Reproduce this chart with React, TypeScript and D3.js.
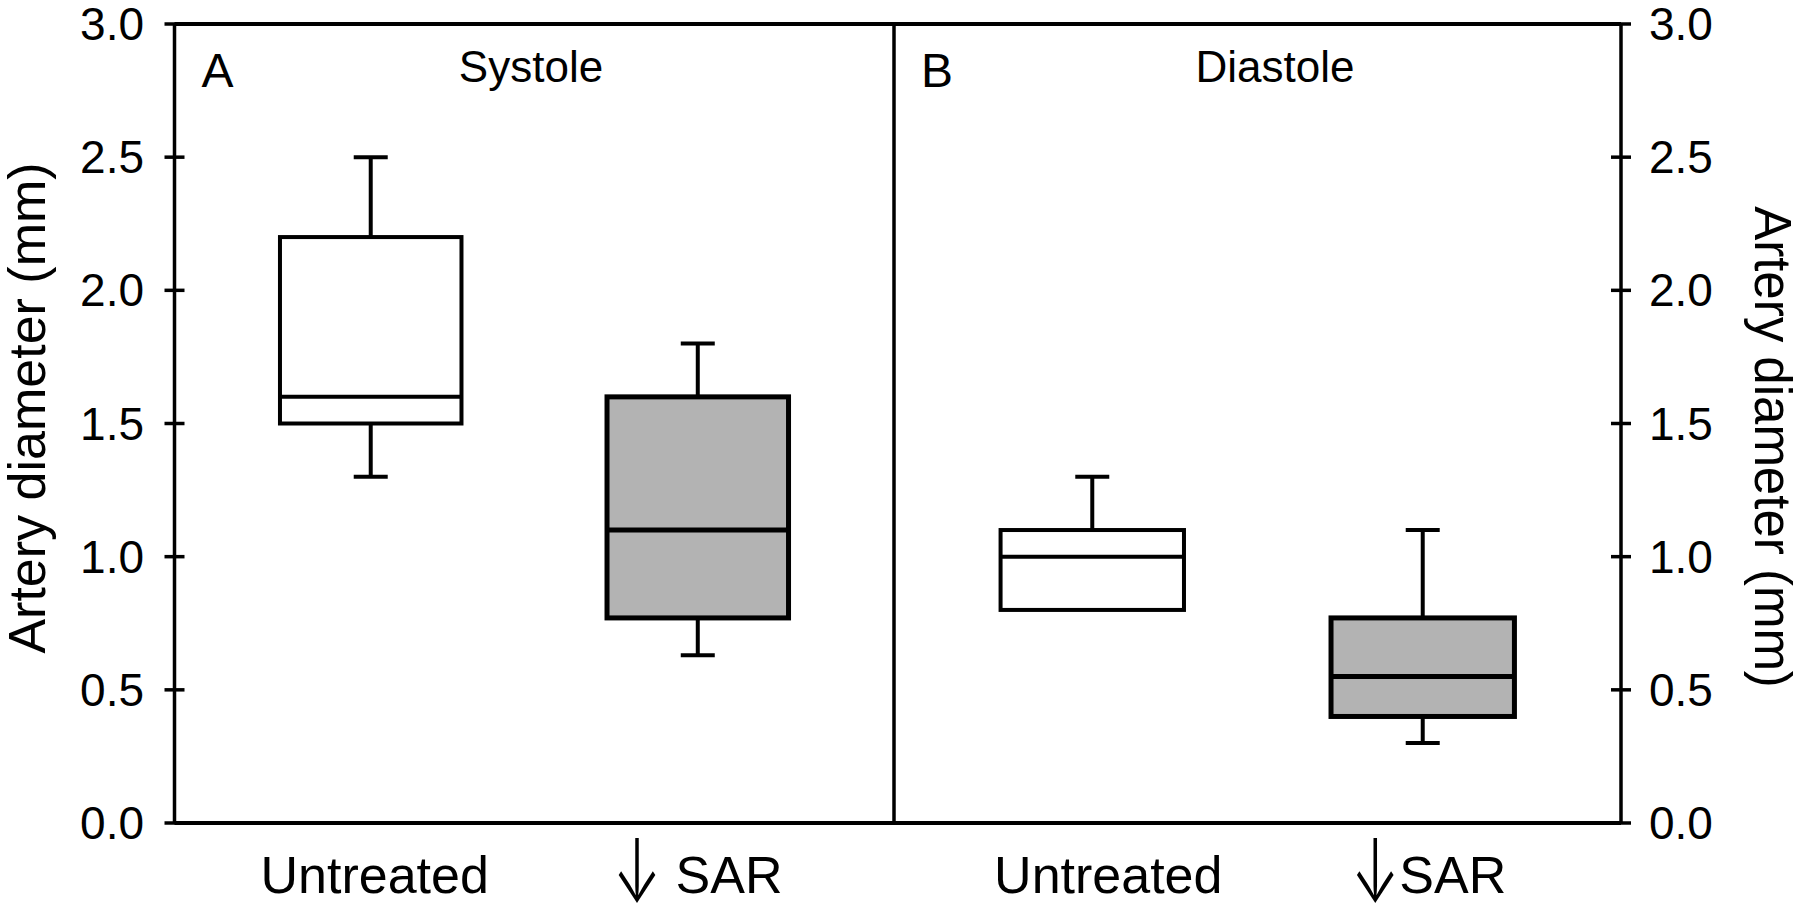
import React from "react";
import * as d3 from "d3";

// ---- data ----
const yTicks = [0, 0.5, 1.0, 1.5, 2.0, 2.5, 3.0];
const categories = ["Untreated", "SAR"];
const panelTitles = ["Systole", "Diastole"];
const panelLetters = ["A", "B"];
// [prefix arrow, text] for each category label
const labelsA = [["", "Untreated"], ["\u2193", " SAR"]];
const labelsB = [["", "Untreated"], ["\u2193", "SAR"]];

// Systole (panel A)
const systoleLow = [1.3, 0.63];
const systoleQ1 = [1.5, 0.77];
const systoleMedian = [1.6, 1.1];
const systoleQ3 = [2.2, 1.6];
const systoleHigh = [2.5, 1.8];

// Diastole (panel B)
const diastoleLow = [0.8, 0.3];
const diastoleQ1 = [0.8, 0.4];
const diastoleMedian = [1.0, 0.55];
const diastoleQ3 = [1.1, 0.77];
const diastoleHigh = [1.3, 1.1];

const boxFills = ["#ffffff", "#b3b3b3"];

// ---- layout ----
const W = 1800;
const H = 913;
const xLeft = 174.5;
const xMid = 894;
const xRight = 1621;
const yTop = 24;
const yBottom = 823;
const FONT = "'Liberation Sans', Arial, Helvetica, sans-serif";

export default function App() {
  const y = d3.scaleLinear().domain([0, 3]).range([yBottom, yTop]);
  const panels = [
    {
      x0: xLeft, x1: xMid, title: panelTitles[0], letter: panelLetters[0], labels: labelsA,
      low: systoleLow, q1: systoleQ1, med: systoleMedian, q3: systoleQ3, high: systoleHigh,
      titleX: 531, labelOffsets: [4, 0],
    },
    {
      x0: xMid, x1: xRight, title: panelTitles[1], letter: panelLetters[1], labels: labelsB,
      low: diastoleLow, q1: diastoleQ1, med: diastoleMedian, q3: diastoleQ3, high: diastoleHigh,
      titleX: 1275, labelOffsets: [16, 6],
    },
  ];

  const tickLen = 10;
  return (
    <svg width={W} height={H} style={{ position: "absolute", left: 0, top: 0, background: "#fff" }}
      fontFamily={FONT}>
      <rect x={0} y={0} width={W} height={H} fill="#fff" />
      {panels.map((p, pi) => {
        const x = d3.scalePoint<string>().domain(categories).range([p.x0, p.x1]).padding(0.6);
        const bw = x.step() * 0.555;
        const capW = 34;
        return (
          <g key={pi}>
            {categories.map((c, i) => {
              const cx = x(c)!;
              const sw = i === 0 ? 4 : 5;
              const [arrow, label] = p.labels[i];
              return (
                <g key={c}>
                  {p.high[i] > p.q3[i] && (
                    <>
                      <line x1={cx} x2={cx} y1={y(p.q3[i])} y2={y(p.high[i])} stroke="#000" strokeWidth={4} />
                      <line x1={cx - capW / 2} x2={cx + capW / 2} y1={y(p.high[i])} y2={y(p.high[i])} stroke="#000" strokeWidth={4} />
                    </>
                  )}
                  {p.low[i] < p.q1[i] && (
                    <>
                      <line x1={cx} x2={cx} y1={y(p.q1[i])} y2={y(p.low[i])} stroke="#000" strokeWidth={4} />
                      <line x1={cx - capW / 2} x2={cx + capW / 2} y1={y(p.low[i])} y2={y(p.low[i])} stroke="#000" strokeWidth={4} />
                    </>
                  )}
                  <rect x={cx - bw / 2} y={y(p.q3[i])} width={bw} height={y(p.q1[i]) - y(p.q3[i])}
                    fill={boxFills[i]} stroke="#000" strokeWidth={sw} />
                  <line x1={cx - bw / 2} x2={cx + bw / 2} y1={y(p.med[i])} y2={y(p.med[i])} stroke="#000" strokeWidth={sw} />
                  <text x={cx + p.labelOffsets[i]} y={893} fontSize={52} textAnchor="middle" fill="#000"
                    style={{ whiteSpace: "pre" }}>
                    {arrow && (
                      <tspan fontSize={88} fontFamily="Inter" fontWeight={300} dy={9}
                        textLength={48} lengthAdjust="spacingAndGlyphs">{arrow}</tspan>
                    )}
                    <tspan dy={arrow ? -9 : 0}>{label}</tspan>
                  </text>
                </g>
              );
            })}
            <text x={p.x0 + 27} y={87} fontSize={48} fill="#000">{p.letter}</text>
            <text x={p.titleX} y={82} fontSize={44} textAnchor="middle" fill="#000">{p.title}</text>
          </g>
        );
      })}
      {/* frame */}
      <line x1={xLeft} x2={xRight} y1={yTop} y2={yTop} stroke="#000" strokeWidth={4} />
      <line x1={xLeft} x2={xRight} y1={yBottom} y2={yBottom} stroke="#000" strokeWidth={4} />
      <line x1={xLeft} x2={xLeft} y1={yTop} y2={yBottom} stroke="#000" strokeWidth={3.5} />
      <line x1={xMid} x2={xMid} y1={yTop} y2={yBottom} stroke="#000" strokeWidth={3.5} />
      <line x1={xRight} x2={xRight} y1={yTop} y2={yBottom} stroke="#000" strokeWidth={3.5} />
      {yTicks.map((t) => (
        <g key={t}>
          <line x1={xLeft - tickLen} x2={xLeft + tickLen} y1={y(t)} y2={y(t)} stroke="#000" strokeWidth={3.5} />
          <line x1={xRight - tickLen} x2={xRight + tickLen} y1={y(t)} y2={y(t)} stroke="#000" strokeWidth={3.5} />
          <text x={144} y={y(t)} dy="0.35em" fontSize={46} textAnchor="end" fill="#000">{t.toFixed(1)}</text>
          <text x={1649} y={y(t)} dy="0.35em" fontSize={46} textAnchor="start" fill="#000">{t.toFixed(1)}</text>
        </g>
      ))}
      <text transform={`translate(45,${408}) rotate(-90)`} fontSize={52} textAnchor="middle" fill="#000">
        Artery diameter (mm)
      </text>
      <text transform={`translate(1755,${447}) rotate(90)`} fontSize={51} textAnchor="middle" fill="#000">
        Artery diameter (mm)
      </text>
    </svg>
  );
}
